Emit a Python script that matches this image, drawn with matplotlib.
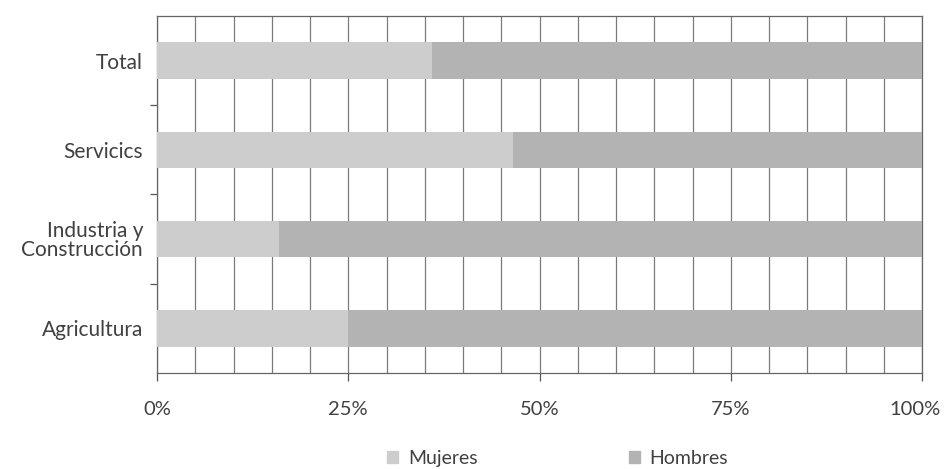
import numpy as np
import matplotlib.pyplot as plt
import matplotlib.transforms as mtransforms
from matplotlib.patches import Patch
from matplotlib.ticker import MultipleLocator, FixedLocator, FuncFormatter

# Share of employment by sex and sector (%)
sectors = ["Total", "Servicics", "Industria y\nConstrucción", "Agricultura"]
mujeres = [36, 46.5, 16, 25]
hombres = [64, 53.5, 84, 75]

col_muj = "#cdcdcd"
col_hom = "#b3b3b3"
text_col = "#404040"
font = "Lato"

fig = plt.figure(figsize=(9.47, 4.69), dpi=100)
ax = fig.add_axes([0.1658, 0.2047, 0.8078, 0.7612])

y = np.arange(len(sectors))
ax.barh(y, mujeres, height=0.41, color=col_muj, zorder=3, label="Mujeres")
ax.barh(y, hombres, left=mujeres, height=0.41, color=col_hom, zorder=3, label="Hombres")

ax.set_xlim(0, 100)
ax.set_ylim(len(sectors) - 0.5, -0.5)

# vertical grid every 5%
ax.xaxis.set_minor_locator(MultipleLocator(5))
ax.grid(axis="x", which="both", color="#7a7a7a", linewidth=0.9, zorder=1)
ax.set_axisbelow(True)

ax.set_xticks([0, 25, 50, 75, 100])
ax.xaxis.set_major_formatter(FuncFormatter(lambda v, p: f"{v:.0f}%"))
ax.tick_params(axis="x", which="major", length=6, width=0.9, color="#555555",
               pad=14, labelsize=14.5, labelcolor=text_col)
ax.tick_params(axis="x", which="minor", length=0)

ax.set_yticks(y)
ax.set_yticklabels(sectors, linespacing=0.95)
ax.yaxis.set_minor_locator(FixedLocator(y[:-1] + 0.5))
ax.tick_params(axis="y", which="major", length=0, pad=10, labelsize=15, labelcolor=text_col)
ax.tick_params(axis="y", which="minor", length=5, width=0.9, color="#555555")

for lab in ax.get_xticklabels() + ax.get_yticklabels():
    lab.set_fontfamily(font)

# nudge the last percentage label a little left so it stays inside the figure
last = ax.get_xticklabels()[-1]
last.set_transform(last.get_transform() + mtransforms.ScaledTranslation(-5 / 72, 0, fig.dpi_scale_trans))

for s in ax.spines.values():
    s.set_color("#666666")
    s.set_linewidth(0.9)

handles = [Patch(color=col_muj, label="Mujeres"), Patch(color=col_hom, label="Hombres")]
leg = fig.legend(handles=handles, loc="center", bbox_to_anchor=(0.589, 0.022), ncol=2,
                 frameon=False, handlelength=0.55, handleheight=0.55, handletextpad=0.5,
                 columnspacing=7.8, prop={"family": font, "size": 14})
for t in leg.get_texts():
    t.set_color(text_col)

fig.savefig("out.png", dpi=100)
